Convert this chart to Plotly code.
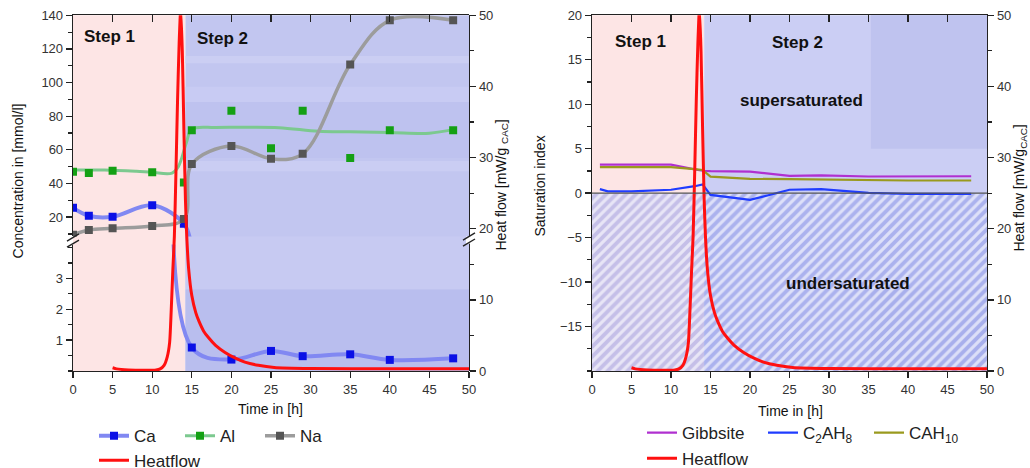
import plotly.graph_objects as go

# Positions below are given in the 1030x468 picture's pixels; the page is
# photographed with a slight vertical squeeze, so the figure is a bit taller.
W, H = 1030, 468
FIG_H = 479


def px(x):
    return x / W


def py(y):
    return 1 - y / H


# ---------------- data ----------------
conc_t = [0, 2, 5, 10, 14, 15, 20, 25, 29, 35, 40, 48]
ca = [25.5, 20.8, 20.2, 27.0, 16.0, 0.76, 0.37, 0.65, 0.48, 0.54, 0.36, 0.41]
al = [47.0, 46.2, 47.5, 46.7, 40.6, 71.7, 83.2, 61.0, 83.2, 55.2, 71.7, 71.7]
na = [9.5, 12.3, 13.3, 14.7, 18.8, 51.5, 62.3, 54.7, 57.6, 110.7, 137.0, 137.0]

al_fit_t = [0, 4, 8, 10, 12.5, 13.3, 14.3, 15, 18, 21, 26, 31, 35, 40, 45, 48]
al_fit = [48.0, 48.0, 47.2, 46.6, 46.2, 50.0, 64.0, 72.3, 73.3, 73.4, 73.2, 71.0, 70.7, 70.3, 69.9, 72.0]

heat_t = [5.0, 5.5, 7.0, 9.0, 10.5, 11.0, 11.5, 11.9, 12.2, 12.4, 12.6, 12.8, 13.0, 13.2, 13.4,
          13.6, 13.8, 14.0, 14.2, 14.36, 14.6, 15.0, 15.5, 15.9, 16.5, 17.1, 18.0, 19.2, 20.5,
          21.7, 23.4, 25.4, 30.0, 40.0, 50.0]
heat = [0.45, 0.3, 0.15, 0.1, 0.15, 0.3, 0.8, 2.0, 4.0, 8.5, 14.0, 19.0, 28.0, 38.0, 46.0,
        51.0, 45.0, 34.0, 24.0, 19.0, 14.4, 10.6, 8.2, 7.0, 5.6, 4.7, 3.6, 2.6, 1.8,
        1.25, 0.8, 0.5, 0.35, 0.3, 0.3]

si_t = [1, 2, 5, 10, 13, 14, 15, 20, 25, 29, 35, 40, 48]
gibbsite = [3.2, 3.2, 3.2, 3.2, 2.68, 2.52, 2.48, 2.43, 1.95, 2.0, 1.87, 1.88, 1.9]
c2ah8 = [0.45, 0.2, 0.2, 0.38, 0.78, 0.98, -0.2, -0.76, 0.38, 0.45, 0.02, -0.08, -0.08]
cah10 = [2.93, 2.93, 2.93, 2.93, 2.7, 2.6, 1.85, 1.6, 1.58, 1.55, 1.43, 1.42, 1.42]

x_ticks = [0, 5, 10, 15, 20, 25, 30, 35, 40, 45, 50]
conc_upper_ticks = [20, 40, 60, 80, 100, 120, 140]
conc_lower_ticks = [1, 2, 3]
heat_ticks = [0, 10, 20, 30, 40, 50]
si_ticks = [-15, -10, -5, 0, 5, 10, 15, 20]
STEP_SPLIT = 14.2

# ---------------- geometry (picture pixels) ----------------
LX0, LX1 = 73, 469
RX0, RX1 = 592, 987
YTOP, YBOT = 15, 364
Y_LOW_TOP = 240
Y_UP_BOT = 232

FONT = "Liberation Sans, Arial, sans-serif"
AXC = "#222222"

CA_LINE, CA_MK = "#8188f2", "#0a10e6"
AL_LINE, AL_MK = "#7cc98f", "#14a014"
NA_LINE, NA_MK = "#9c9c9c", "#555555"
RED = "#ff1010"

fig = go.Figure()

# ---- left plot: concentrations ----
fig.add_trace(go.Scatter(x=conc_t[:6], y=ca[:6], xaxis="x", yaxis="y2", mode="lines+markers",
                         line=dict(color=CA_LINE, width=4, shape="spline"),
                         marker=dict(symbol="square", size=8, color=CA_MK),
                         name="Ca", legend="legend", showlegend=True))
fig.add_trace(go.Scatter(x=conc_t[4:], y=ca[4:], xaxis="x", yaxis="y", mode="lines+markers",
                         line=dict(color=CA_LINE, width=4, shape="spline"),
                         marker=dict(symbol="square", size=8, color=CA_MK),
                         name="Ca", showlegend=False))
fig.add_trace(go.Scatter(x=al_fit_t, y=al_fit, xaxis="x", yaxis="y2", mode="lines",
                         line=dict(color=AL_LINE, width=3, shape="spline"),
                         name="Al", showlegend=False))
fig.add_trace(go.Scatter(x=conc_t, y=al, xaxis="x", yaxis="y2", mode="markers",
                         marker=dict(symbol="square", size=8, color=AL_MK),
                         name="Al", showlegend=False))
fig.add_trace(go.Scatter(x=[None], y=[None], xaxis="x", yaxis="y2", mode="lines+markers",
                         line=dict(color=AL_LINE, width=3),
                         marker=dict(symbol="square", size=8, color=AL_MK),
                         name="Al", legend="legend2", showlegend=True))
fig.add_trace(go.Scatter(x=conc_t, y=na, xaxis="x", yaxis="y2", mode="lines+markers",
                         line=dict(color=NA_LINE, width=3.5, shape="spline"),
                         marker=dict(symbol="square", size=8, color=NA_MK),
                         name="Na", legend="legend3", showlegend=True))
fig.add_trace(go.Scatter(x=heat_t, y=heat, xaxis="x", yaxis="y3", mode="lines",
                         line=dict(color=RED, width=3, shape="spline", smoothing=0.6),
                         name="Heatflow", legend="legend4", showlegend=True))
# top mirror axis (left)
fig.add_trace(go.Scatter(x=[None], y=[None], xaxis="x4", yaxis="y2", showlegend=False, hoverinfo="skip"))

# ---- right plot: saturation indices ----
fig.add_trace(go.Scatter(x=[0, 50, 50, 0, 0], y=[-20, -20, 0, 0, -20], xaxis="x2", yaxis="y4",
                         mode="none", fill="toself", fillcolor="rgba(150,160,235,0.55)",
                         fillpattern=dict(shape="/", size=7, solidity=0.45,
                                          bgcolor="rgba(150,160,235,0.55)",
                                          fgcolor="rgba(255,255,255,0.6)"),
                         showlegend=False, hoverinfo="skip"))
fig.add_trace(go.Scatter(x=si_t, y=gibbsite, xaxis="x2", yaxis="y4", mode="lines",
                         line=dict(color="#b030d0", width=2.2), name="Gibbsite",
                         legend="legend5", showlegend=True))
fig.add_trace(go.Scatter(x=si_t, y=c2ah8, xaxis="x2", yaxis="y4", mode="lines",
                         line=dict(color="#1f3cff", width=2.2), name="C<sub>2</sub>AH<sub>8</sub>",
                         legend="legend6", showlegend=True))
fig.add_trace(go.Scatter(x=si_t, y=cah10, xaxis="x2", yaxis="y4", mode="lines",
                         line=dict(color="#9a9a1e", width=2.2), name="CAH<sub>10</sub>",
                         legend="legend7", showlegend=True))
fig.add_trace(go.Scatter(x=heat_t, y=heat, xaxis="x2", yaxis="y5", mode="lines",
                         line=dict(color=RED, width=3, shape="spline", smoothing=0.6),
                         name="Heatflow", legend="legend8", showlegend=True))
fig.add_trace(go.Scatter(x=[None], y=[None], xaxis="x5", yaxis="y4", showlegend=False, hoverinfo="skip"))

# ---------------- axes ----------------
tickfont = dict(family=FONT, size=13, color="#333333")
common = dict(showgrid=False, zeroline=False, showline=True, linecolor=AXC, linewidth=1.3,
              ticks="outside", ticklen=6, tickwidth=1.3, tickcolor=AXC, tickfont=tickfont,
              fixedrange=True, automargin=False)
minor_y = lambda d: dict(dtick=d, ticks="outside", ticklen=3.5, tickwidth=1.2, tickcolor=AXC)

dom_full = [py(YBOT), py(YTOP)]
fig.update_layout(
    template="none",
    xaxis=dict(common, domain=[px(LX0), px(LX1)], range=[0, 50], anchor="y",
               tickmode="array", tickvals=x_ticks),
    xaxis4=dict(common, domain=[px(LX0), px(LX1)], range=[0, 50], anchor="y2", overlaying="x",
                side="top", ticks="inside", ticklen=7, showticklabels=False,
                tickmode="array", tickvals=x_ticks),
    yaxis=dict(common, domain=[py(YBOT), py(Y_LOW_TOP)], range=[0, (YBOT - Y_LOW_TOP) / 30.3],
               anchor="x", tickmode="array", tickvals=conc_lower_ticks, minor=minor_y(0.5)),
    yaxis2=dict(common, domain=[py(Y_UP_BOT), py(YTOP)], range=[20 - (Y_UP_BOT - 213) / 1.65, 140],
                anchor="x", tickmode="array", tickvals=conc_upper_ticks, minor=minor_y(10)),
    yaxis3=dict(common, domain=dom_full, range=[0, 50], anchor="x", side="right",
                tickmode="array", tickvals=heat_ticks, minor=minor_y(5)),
    xaxis2=dict(common, domain=[px(RX0), px(RX1)], range=[0, 50], anchor="y4",
                tickmode="array", tickvals=x_ticks),
    xaxis5=dict(common, domain=[px(RX0), px(RX1)], range=[0, 50], anchor="y4", overlaying="x2",
                side="top", ticks="inside", ticklen=7, showticklabels=False,
                tickmode="array", tickvals=x_ticks),
    yaxis4=dict(common, domain=dom_full, range=[-20, 20], anchor="x2",
                tickmode="array", tickvals=si_ticks, minor=minor_y(2.5)),
    yaxis5=dict(common, range=[0, 50], anchor="x2", overlaying="y4", side="right",
                tickmode="array", tickvals=heat_ticks, minor=minor_y(5)),
)

# ---------------- background regions (paper) ----------------
def tx_left(t):
    return px(LX0 + (LX1 - LX0) * t / 50)


def tx_right(t):
    return px(RX0 + (RX1 - RX0) * t / 50)


def si_y(v):
    return py(YTOP + (YBOT - YTOP) * (20 - v) / 40)


shapes = []


def rect(x0, x1, y0, y1, color, layer="below"):
    shapes.append(dict(type="rect", xref="paper", yref="paper", x0=x0, x1=x1, y0=y0, y1=y1,
                       fillcolor=color, line=dict(width=0), layer=layer))


PINK = "#fde5e5"
# left
rect(tx_left(0), tx_left(STEP_SPLIT), py(YBOT), py(YTOP), PINK)
rect(tx_left(STEP_SPLIT), tx_left(50), py(YBOT), py(YTOP), "#c2c6f0")
for (ya, yb, c) in [(55, 62, "#cbcef3"), (85, 100, "#c8cbf3"), (100, 155, "#bec2ef"),
                    (158, 168, "#cacdf3"), (232, 284, "#c7caf2"), (284, 364, "#b9beee")]:
    rect(tx_left(STEP_SPLIT), tx_left(50), py(yb), py(ya), c)
# right
rect(tx_right(0), tx_right(STEP_SPLIT), py(YBOT), py(YTOP), PINK)
rect(tx_right(STEP_SPLIT), tx_right(50), si_y(0), py(YTOP), "#cbcef4")
rect(tx_right(35.3), tx_right(50), si_y(5), py(YTOP), "#bfc3ef")
rect(tx_right(STEP_SPLIT), tx_right(50), py(YBOT), si_y(0), "#c4c8f2")
rect(tx_right(35.3), tx_right(50), py(YBOT), si_y(-10.5), "#bdc1ee")

# zero line on the saturation plot
shapes.append(dict(type="line", xref="x2", yref="y4", x0=0, x1=50, y0=0, y1=0,
                   line=dict(color="#555555", width=1.2)))

# axis break marks
rect(px(LX1 - 3), px(LX1 + 3), py(239), py(232), "white", layer="above")
for (xc, yc) in [(LX0, 233), (LX0, 239), (LX1, 232), (LX1, 238)]:
    shapes.append(dict(type="line", xref="paper", yref="paper",
                       x0=px(xc - 6), y0=py(yc + 3.5), x1=px(xc + 6), y1=py(yc - 3.5),
                       line=dict(color=AXC, width=1.4)))

fig.update_layout(shapes=shapes)

# ---------------- text ----------------
ann = []


def text(x, y, s, size=14, bold=False, angle=0, xanchor="center"):
    ann.append(dict(x=px(x), y=py(y), xref="paper", yref="paper", text=f"<b>{s}</b>" if bold else s,
                    showarrow=False, textangle=angle, xanchor=xanchor, yanchor="middle",
                    font=dict(family=FONT, size=size, color="#111111")))


text(109, 36, "Step 1", 17, True)
text(222, 38, "Step 2", 17, True)
text(640, 41, "Step 1", 17, True)
text(797, 42, "Step 2", 17, True)
text(801, 99, "supersaturated", 17, True)
text(848, 278, "undersaturated", 17, True)
text(270, 401, "Time in [h]", 14)
text(790, 403, "Time in [h]", 14)
text(18, 178, "Concentration in [mmol/l]", 14, angle=-90)
text(502, 182, "Heat flow [mW/g <sub>CAC</sub>]", 14, angle=-90)
text(540, 183, "Saturation index", 14, angle=-90)
text(1020, 185, "Heat flow [mW/g<sub>CAC</sub>]", 14, angle=-90)
fig.update_layout(annotations=ann)

# ---------------- legends ----------------
def leg(text_x, row_y):
    return dict(x=px(text_x - 40), y=py(row_y), xanchor="left", yanchor="middle",
                orientation="h", bgcolor="rgba(0,0,0,0)", borderwidth=0,
                font=dict(family=FONT, size=17, color="#222222"))


fig.update_layout(
    legend=leg(134, 428), legend2=leg(220, 428), legend3=leg(300, 428), legend4=leg(134, 452),
    legend5=leg(682, 425), legend6=leg(803, 425), legend7=leg(909, 425), legend8=leg(682, 450),
)

fig.update_layout(width=W, height=FIG_H, autosize=False, margin=dict(l=0, r=0, t=0, b=0),
                  paper_bgcolor="white", plot_bgcolor="rgba(0,0,0,0)",
                  font=dict(family=FONT), hovermode=False)

fig.write_html("out.html", config={"displayModeBar": False, "staticPlot": True},
               post_script="document.body.style.margin='0px';document.body.style.overflow='hidden';")
